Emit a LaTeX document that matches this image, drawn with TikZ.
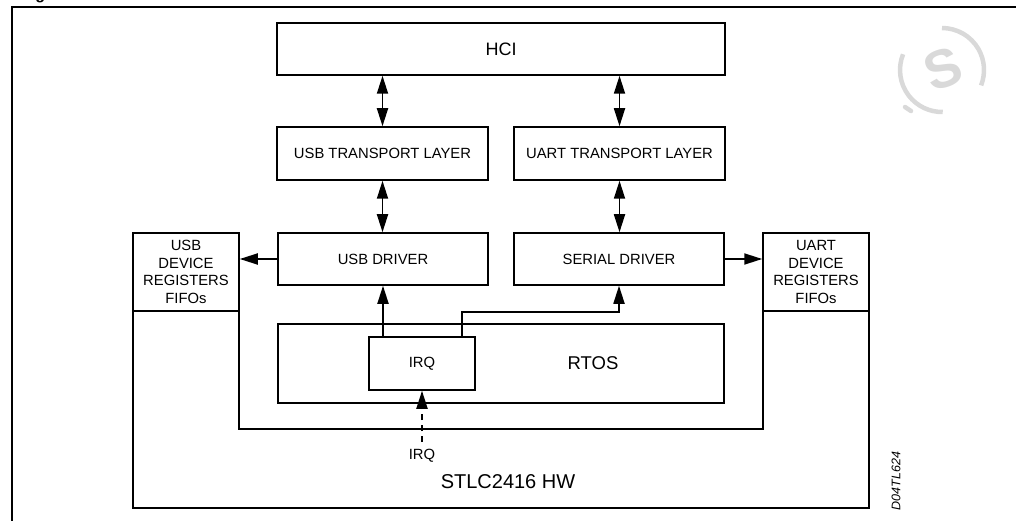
\documentclass[tikz,border=0pt]{standalone}
\usepackage{fontspec}
\setmainfont{Liberation Sans}
\usetikzlibrary{arrows.meta}
\tikzset{
  blk/.style={draw, line width=1.5pt, inner sep=0pt, align=center, font=\fontsize{14.8}{17.7}\selectfont},
  lbl/.style={inner sep=0pt, font=\fontsize{14.8}{17.7}\selectfont},
  wire/.style={line width=1.8pt},
  onetip/.style={-{Triangle[length=18pt,width=11pt]}},
  twotip/.style={{Triangle[length=18pt,width=11pt]}-{Triangle[length=18pt,width=11pt]}},
  wmark/.style={draw=black!15, line width=4.5pt},
}
\begin{document}
\begin{tikzpicture}[x=1pt,y=-1pt]
\useasboundingbox (0,0) rectangle (1016,521);
\clip (0,0) rectangle (1016,521);
% title fragment and watermark
\node[anchor=base west, inner sep=0pt, font=\bfseries\fontsize{16}{18}\selectfont] (title) at (21,-0.5) {Figure};
\coordinate (wmc) at (942,70);
\draw[wmark] (wmc) ++(-90:42) arc[start angle=-90, end angle=21.5, radius=42];
\draw[wmark] (wmc) ++(202:42) arc[start angle=202, end angle=89, radius=42];
\draw[wmark, line cap=round] (905,107) -- (911,111);
\node[text=black!15, font=\bfseries\fontsize{54}{58}\selectfont, rotate=20] (wm) at (943,69) {S};
% outer frame
\draw[line width=2.5pt] (12,540) -- (12,7) -- (1040,7);
% hardware outline
\draw[line width=1.5pt] (133,233) -- (239,233) -- (239,429) -- (763,429) -- (763,233) -- (869,233) -- (869,508) -- (133,508) -- cycle;
% blocks
\node[blk, minimum width=448pt, minimum height=52pt, font=\fontsize{18}{20}\selectfont] (hci) at (501,49) {HCI};
\node[blk, minimum width=211pt, minimum height=53pt] (usbtl) at (382.5,153.5) {USB TRANSPORT LAYER};
\node[blk, minimum width=211pt, minimum height=53pt] (uarttl) at (619.5,153.5) {UART TRANSPORT LAYER};
\node[blk, minimum width=210pt, minimum height=52pt] (usbdrv) at (383,259) {USB DRIVER};
\node[blk, minimum width=210pt, minimum height=52pt] (serdrv) at (619,259) {SERIAL DRIVER};
\node[blk, minimum width=106pt, minimum height=78pt] (usbdev) at (186,272) {USB\\DEVICE\\REGISTERS\\FIFOs};
\node[blk, minimum width=106pt, minimum height=78pt] (uartdev) at (816,272) {UART\\DEVICE\\REGISTERS\\FIFOs};
\node[blk, minimum width=446pt, minimum height=79pt] (rtos) at (501,363.5) {};
\node[lbl, font=\fontsize{18.5}{20}\selectfont] (rtoslbl) at (593,363) {RTOS};
\node[blk, minimum width=106pt, minimum height=53pt, fill=white] (irq) at (422,363.5) {IRQ};
\node[lbl] (irqlbl) at (422,456) {IRQ};
\node[lbl, font=\fontsize{20}{22}\selectfont] (hwlbl) at (508,482) {STLC2416 HW};
\node[lbl, rotate=90, font=\itshape\fontsize{12.5}{14}\selectfont] (code) at (896,481) {D04TL624};
\coordinate (irqsrc) at (422,442);
% connectors
\draw[wire, twotip] (usbtl.north |- hci.south) -- (usbtl.north);
\draw[wire, twotip] (uarttl.north |- hci.south) -- (uarttl.north);
\draw[wire, twotip] (usbtl.south) -- (usbdrv.north -| usbtl.south);
\draw[wire, twotip] (uarttl.south) -- (serdrv.north -| uarttl.south);
\draw[wire, onetip] (usbdrv.west) -- (usbdev.east |- usbdrv.west);
\draw[wire, onetip] (serdrv.east) -- (uartdev.west |- serdrv.east);
\draw[wire, onetip] (usbdrv.south |- irq.north) -- (usbdrv.south);
\draw[wire, onetip] ([xshift=40pt]irq.north) |- ([yshift=-26pt]serdrv.south) -- (serdrv.south);
\draw[wire, onetip, dash pattern=on 6pt off 5pt] (irqsrc) -- (irq.south);
\end{tikzpicture}
\end{document}
